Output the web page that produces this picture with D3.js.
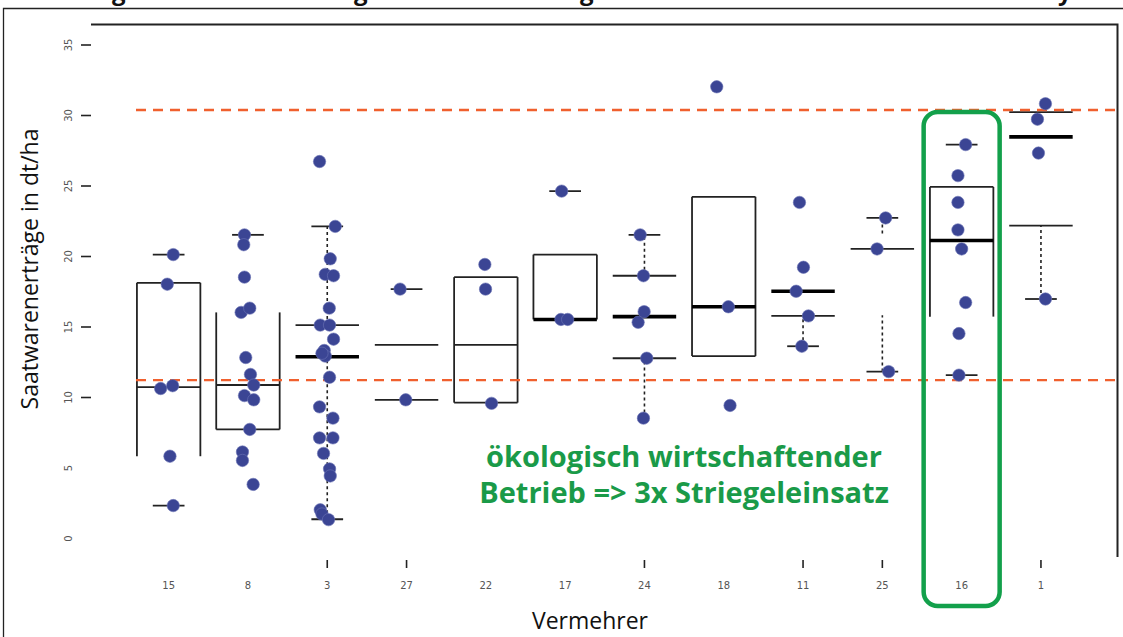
<!DOCTYPE html>
<html>
<head>
<meta charset="utf-8">
<script src="https://cdn.jsdelivr.net/npm/d3@7"></script>
<style>
  body { margin: 0; background: #fff; }
  svg { display: block; }
</style>
</head>
<body>
<svg id="chart" width="1123" height="637"></svg>
<script>
// Vermehrer (seed multipliers) in plotting order
const vermehrer = ["15", "8", "3", "27", "22", "17", "24", "18", "11", "25", "16", "1"];

// Single yields (dt/ha) per Vermehrer
const ertraege = [
  [20.1, 18.0, 10.6, 10.8, 5.8, 2.3],
  [21.5, 20.8, 18.5, 16.0, 16.3, 12.8, 11.6, 10.85, 10.1, 9.8, 7.7, 6.1, 5.5, 3.8],
  [26.7, 22.1, 19.8, 18.7, 18.6, 16.3, 15.1, 15.1, 14.1, 13.3, 12.9, 13.1, 11.4, 9.3, 8.5, 7.1, 7.1, 6.0, 4.9, 4.4, 2.0, 1.7, 1.3],
  [17.65, 9.8],
  [19.4, 17.65, 9.55],
  [24.6, 15.5, 15.5],
  [21.5, 18.6, 16.05, 15.3, 12.75, 8.5],
  [32.0, 16.4, 9.4],
  [23.8, 19.2, 17.5, 15.75, 13.6],
  [22.7, 20.5, 11.8],
  [27.9, 25.7, 23.8, 21.85, 20.5, 16.7, 14.5, 11.55],
  [30.8, 29.7, 27.3, 16.95]
];

// Horizontal jitter of the single yields (px from the group centre)
const jitter = [
  [4.6, -1.4, -8, 4, 1.3, 4.6],
  [-3.5, -4.2, -3.5, -6.8, 1.8, -2.2, 2.5, 5.8, -3.5, 5.8, 1.8, -5.5, -5.5, 5.2],
  [-7.7, 8, 3, -2, 6.3, 2, -7, 2.3, 6.3, -3, -2, -5.3, 2.3, -7.7, 5.7, -7.7, 5.7, -3.7, 2.3, 3, -7, -5.3, 1.3],
  [-6.5, -0.8],
  [-1, -0.3, 5.7],
  [-3.5, -4.2, 2.5],
  [-4.3, -1, -0.3, -6.3, 2.3, -1],
  [-7, 4.6, 6.3],
  [-3.6, 0.4, -6.9, 5.4, -1.2],
  [3.3, -5.3, 6.3],
  [4, -3.7, -3.7, -3.7, 0, 4, -2.7, -2.7],
  [4.5, -3.5, -2.5, 4.5]
];

// Box summaries (dt/ha)
const medians = [10.7, 10.85, 12.85, 13.7, 13.7, 15.5, 15.7, 16.4, 17.5, 20.5, 21.1, 28.45];
const hingeLines = [[18.1], [7.7], [15.1], [9.8], [18.5, 9.6], [20.1], [18.6, 12.75], [24.2, 12.9], [15.75], [], [24.9], [30.2, 22.15]];
const boxSpans = [[5.8, 18.1], [7.7, 16.0], null, null, [9.6, 18.5], [15.5, 20.1], null, [12.9, 24.2], null, null, [15.7, 24.9], null];
const whiskerCaps = [[2.3, 20.1], [21.5], [1.33, 22.1], [17.65], [], [24.6], [21.5], [], [13.6], [11.8, 22.7], [11.55, 27.9], [16.95]];
const whiskerSpans = [[], [], [[15.1, 22.1], [1.33, 12.85]], [], [], [], [[18.6, 21.5], [8.9, 12.75]], [], [[13.6, 15.75]], [[21.6, 22.7], [11.8, 15.8]], [], [[16.95, 22.15]]];

// Reference yield levels
const referenceLines = [30.35, 11.2];

// Axis ticks
const yTicks = [0, 5, 10, 15, 20, 25, 30, 35];
const yTicksMarked = [10, 15, 20, 25, 30, 35];
const xTicksMarked = ["3", "27", "24", "11", "25", "1"];

// Highlighted farm
const highlighted = "16";
const annotation = ["ökologisch wirtschaftender", "Betrieb => 3x Striegeleinsatz"];

const boldMedian = new Set(["3", "17", "24", "18", "11", "16", "1"]);

const svg = d3.select("#chart");

const x = d3.scaleBand().domain(vermehrer).range([129, 1080.6]).padding(0);
const y = d3.scaleLinear().domain([0, 35]).range([538, 44.5]);
const cx = c => x(c) + x.bandwidth() / 2;
const boxW = x.bandwidth() * 0.8;
const capW = boxW / 2;

// Outer border of the figure
svg.append("path")
  .attr("d", "M3.5,637 V8.5 H1123")
  .attr("fill", "none").attr("stroke", "#222").attr("stroke-width", 1.3);

// Title descenders peeking above the border
const titleGlyphs = [["g", 112], ["g", 354], ["g", 580], ["y", 1058]];
svg.append("g").selectAll("text").data(titleGlyphs).join("text")
  .attr("x", d => d[1]).attr("y", 0)
  .attr("font-family", "Open Sans, sans-serif").attr("font-weight", 700)
  .attr("font-size", 24).attr("fill", "#111")
  .text(d => d[0]);

// Plot frame (top and right)
svg.append("path")
  .attr("d", "M91,24.5 H1117.5 V557")
  .attr("fill", "none").attr("stroke", "#222").attr("stroke-width", 2);

// Y axis
const yAxis = svg.append("g")
  .attr("transform", "translate(91,0)")
  .call(d3.axisLeft(y).tickValues(yTicks).tickSize(10).tickPadding(0));
yAxis.select(".domain").remove();
yAxis.selectAll(".tick line")
  .attr("stroke", "#222").attr("stroke-width", 1.6)
  .attr("display", d => yTicksMarked.includes(d) ? null : "none");
yAxis.selectAll(".tick text")
  .attr("x", null).attr("dy", null)
  .attr("transform", "translate(-23,0) rotate(-90)")
  .attr("text-anchor", "middle").attr("dominant-baseline", "central")
  .attr("font-family", "DejaVu Sans, sans-serif").attr("font-size", 10)
  .attr("fill", "#555");

// X axis
const xAxis = svg.append("g")
  .attr("transform", "translate(0,560)")
  .call(d3.axisBottom(x).tickSize(8).tickPadding(0));
xAxis.select(".domain").remove();
xAxis.selectAll(".tick line")
  .attr("stroke", "#222").attr("stroke-width", 1.6)
  .attr("display", d => xTicksMarked.includes(d) ? null : "none");
xAxis.selectAll(".tick text")
  .attr("y", 29).attr("dy", null)
  .attr("font-family", "DejaVu Sans, sans-serif").attr("font-size", 10)
  .attr("fill", "#555");

// Axis titles
svg.append("text")
  .attr("transform", "translate(38,269) rotate(-90)")
  .attr("text-anchor", "middle")
  .attr("font-family", "Open Sans, sans-serif").attr("font-size", 23).attr("fill", "#111")
  .text("Saatwarenerträge in dt/ha");
svg.append("text")
  .attr("x", 590).attr("y", 629)
  .attr("text-anchor", "middle")
  .attr("font-family", "Open Sans, sans-serif").attr("font-size", 23).attr("fill", "#111")
  .text("Vermehrer");

// Box plots
const groups = svg.append("g").selectAll("g").data(vermehrer).join("g");

groups.each(function (c, i) {
  const g = d3.select(this);
  const xc = cx(c);

  // dotted whiskers
  g.selectAll("line.whisker").data(whiskerSpans[i]).join("line")
    .attr("class", "whisker")
    .attr("x1", xc).attr("x2", xc)
    .attr("y1", d => y(d[0])).attr("y2", d => y(d[1]))
    .attr("stroke", "#222").attr("stroke-width", 1.6).attr("stroke-dasharray", "3,3");

  // box sides
  if (boxSpans[i]) {
    const [lo, hi] = boxSpans[i];
    g.selectAll("line.side").data([-1, 1]).join("line")
      .attr("class", "side")
      .attr("x1", s => xc + s * boxW / 2).attr("x2", s => xc + s * boxW / 2)
      .attr("y1", y(lo)).attr("y2", y(hi))
      .attr("stroke", "#222").attr("stroke-width", 1.8);
  }

  // hinge lines
  g.selectAll("line.hinge").data(hingeLines[i]).join("line")
    .attr("class", "hinge")
    .attr("x1", xc - boxW / 2).attr("x2", xc + boxW / 2)
    .attr("y1", d => y(d)).attr("y2", d => y(d))
    .attr("stroke", "#222").attr("stroke-width", 1.8);

  // whisker caps
  g.selectAll("line.cap").data(whiskerCaps[i]).join("line")
    .attr("class", "cap")
    .attr("x1", xc - capW / 2).attr("x2", xc + capW / 2)
    .attr("y1", d => y(d)).attr("y2", d => y(d))
    .attr("stroke", "#222").attr("stroke-width", 1.8);

  // median
  g.append("line")
    .attr("x1", xc - boxW / 2).attr("x2", xc + boxW / 2)
    .attr("y1", y(medians[i])).attr("y2", y(medians[i]))
    .attr("stroke", boldMedian.has(c) ? "#000" : "#222")
    .attr("stroke-width", boldMedian.has(c) ? 3.6 : 1.8);
});

// Reference levels
svg.append("g").selectAll("line").data(referenceLines).join("line")
  .attr("x1", 136).attr("x2", 1117)
  .attr("y1", d => y(d)).attr("y2", d => y(d))
  .attr("stroke", "#f0602e").attr("stroke-width", 2.4).attr("stroke-dasharray", "10,7");

// Single yields
const points = vermehrer.flatMap((c, i) => ertraege[i].map((v, j) => ({ c, v, dx: jitter[i][j] })));
svg.append("g").selectAll("circle").data(points).join("circle")
  .attr("cx", d => cx(d.c) + d.dx)
  .attr("cy", d => y(d.v))
  .attr("r", 6.2)
  .attr("fill", "#3b4594")
  .attr("stroke", "#6b74b5").attr("stroke-width", 0.6);

// Highlight of the organic farm
svg.append("rect")
  .attr("x", cx(highlighted) - 38).attr("y", 112)
  .attr("width", 76).attr("height", 494)
  .attr("rx", 14).attr("ry", 14)
  .attr("fill", "none").attr("stroke", "#13a04b").attr("stroke-width", 4.5);

svg.append("g").selectAll("text").data(annotation).join("text")
  .attr("x", 684).attr("y", (d, k) => 467 + k * 36)
  .attr("text-anchor", "middle")
  .attr("font-family", "Open Sans, sans-serif").attr("font-weight", 700)
  .attr("font-size", 29).attr("fill", "#1a9a48")
  .text(d => d);
</script>
</body>
</html>
